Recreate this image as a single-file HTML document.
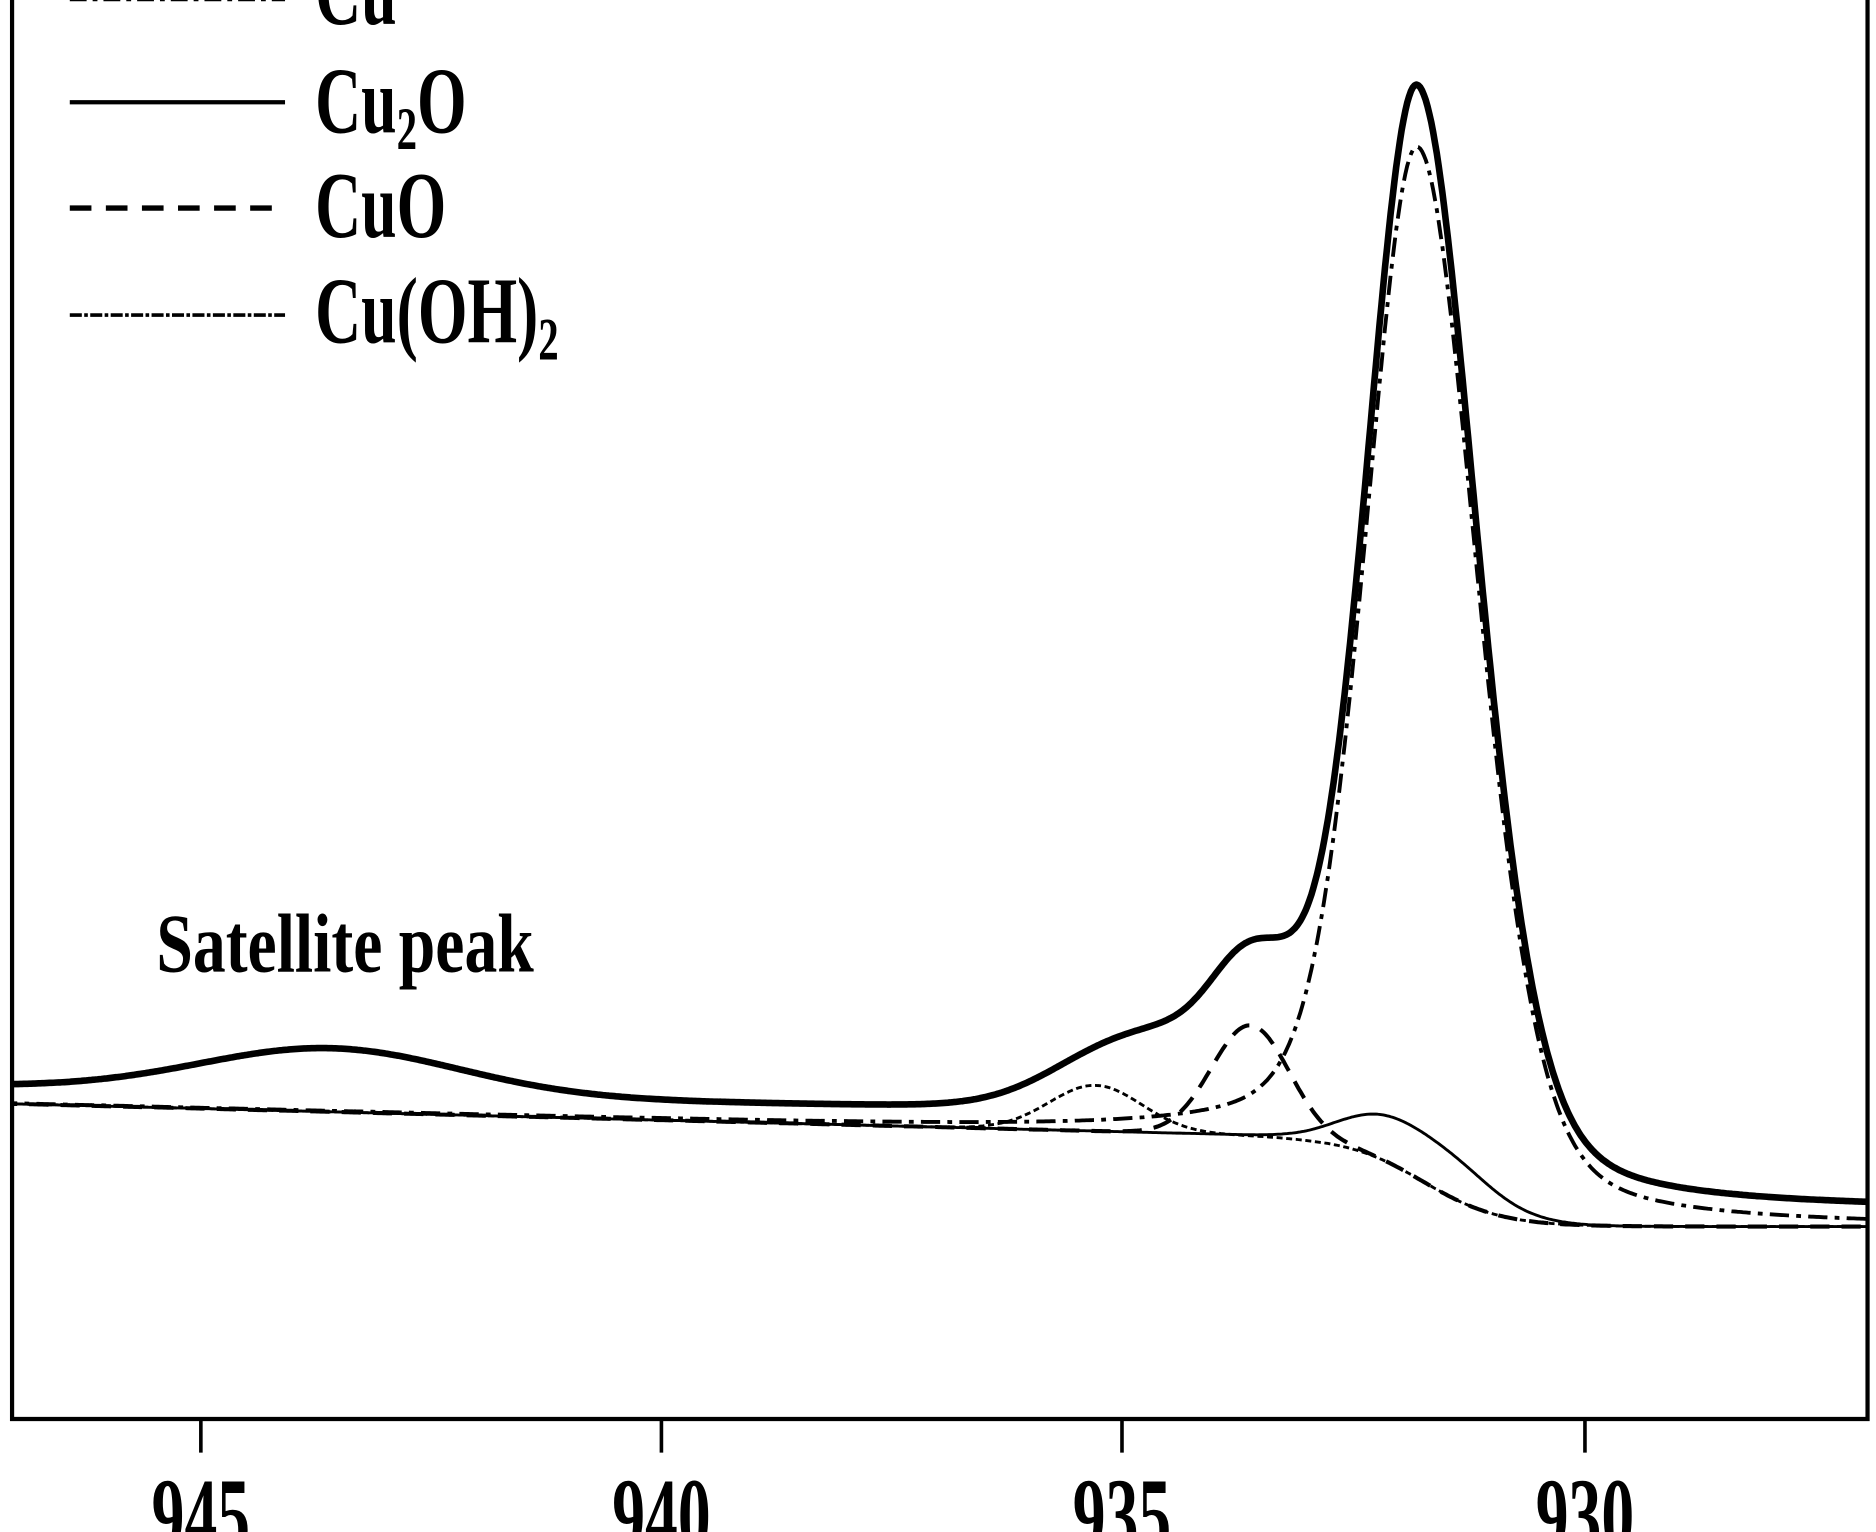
<!DOCTYPE html>
<html><head><meta charset="utf-8"><style>
html,body{margin:0;padding:0;background:#fff;}
svg{display:block;}
text{font-family:"Liberation Serif",serif;font-weight:bold;fill:#000;}
</style></head><body>
<svg id="s" width="1876" height="1532" viewBox="0 0 1560 1274" xmlns="http://www.w3.org/2000/svg">
<rect x="0" y="0" width="1560" height="1274" fill="#fff"/>
<g id="curves" fill="none" stroke="#000" stroke-linejoin="round"></g>
<path d="M10,-10 L10,1180 L1553,1180 L1553,-10" fill="none" stroke="#000" stroke-width="3.5"/>
<g stroke="#000" stroke-width="3">
<line x1="167" y1="1180" x2="167" y2="1208"/>
<line x1="550" y1="1180" x2="550" y2="1208"/>
<line x1="933" y1="1180" x2="933" y2="1208"/>
<line x1="1318" y1="1180" x2="1318" y2="1208"/>
</g>
<g font-size="88">
<text transform="translate(167,1290) scale(0.62,1)" text-anchor="middle">945</text>
<text transform="translate(550,1290) scale(0.62,1)" text-anchor="middle">940</text>
<text transform="translate(933,1290) scale(0.62,1)" text-anchor="middle">935</text>
<text transform="translate(1318,1290) scale(0.62,1)" text-anchor="middle">930</text>
</g>
<g stroke="#000" fill="none">
<line x1="58" y1="-2" x2="237" y2="-2" stroke-width="6" stroke-dasharray="14 5 4 5"/>
<line x1="58" y1="85" x2="237" y2="85" stroke-width="3.5"/>
<line x1="58" y1="173" x2="237" y2="173" stroke-width="4.5" stroke-dasharray="18 12"/>
<line x1="58" y1="262" x2="237" y2="262" stroke-width="3" stroke-dasharray="10 2 3 2"/>
</g>
<g font-size="78">
<text transform="translate(262,20) scale(0.68,1)">Cu</text>
<text transform="translate(262,110) scale(0.68,1)">Cu<tspan font-size="50" dy="14">2</tspan><tspan dy="-14">O</tspan></text>
<text transform="translate(262,197) scale(0.68,1)">CuO</text>
<text transform="translate(262,285) scale(0.68,1)">Cu(OH)<tspan font-size="50" dy="14">2</tspan></text>
</g>
<text font-size="70" transform="translate(130,808) scale(0.78,1)">Satellite peak</text>
</svg>
<script>
(function(){
var X=function(E){return 167+(945-E)*76.7;};
function sig(z){return 1/(1+Math.exp(-z));}
function lin(E){return 918+(947-E)*(945-918)/(947-933);}
function linc(E){var v=lin(E);return v>945?945:v;}
function B(E){var l=linc(E);return l+(1020-l)*sig((931.75-E)/0.42);}
function B2(E){var l=linc(E);return l+(1020-l)*sig((931.1-E)/0.3);}
function G(E,c,s){return Math.exp(-0.5*Math.pow((E-c)/s,2));}
function PV(E,c,f,m){var d=(E-c)/f;return (1-m)*Math.exp(-4*Math.LN2*d*d)+m/(1+4*d*d);}
function cu(E){var f=E<931.8?1.55:1.35;return 858*PV(E,931.8,f,0.3);}
function cuo(E){return 92*G(E,933.62,0.42);}
function coh(E){return 38*G(E,935.3,0.5);}
function cu2o(E){return 20*G(E,932.25,0.45);}
function sat(E){return 38*G(E,943.6,1.4);}
var g=document.getElementById('curves');
function path(fn,w,dash){
  var d='';
  for(var E=947.2;E>=926.8;E-=0.02){var x=X(E),y=fn(E);d+=(d?'L':'M')+x.toFixed(1)+','+y.toFixed(1);}
  var p=document.createElementNS('http://www.w3.org/2000/svg','path');
  p.setAttribute('d',d);p.setAttribute('stroke-width',w);
  if(dash)p.setAttribute('stroke-dasharray',dash);
  g.appendChild(p);
}
var clip=document.createElementNS('http://www.w3.org/2000/svg','clipPath');
clip.setAttribute('id','c');
var r=document.createElementNS('http://www.w3.org/2000/svg','rect');
r.setAttribute('x',10);r.setAttribute('y',0);r.setAttribute('width',1543);r.setAttribute('height',1180);
clip.appendChild(r);document.getElementById('s').appendChild(clip);
g.setAttribute('clip-path','url(#c)');
path(function(E){return B2(E)-cu2o(E);},2.4,null);
path(function(E){return B(E)-coh(E);},2.4,'5 3');
path(function(E){return B(E)-cuo(E);},3.4,'16 10');
path(function(E){return B(E)-cu(E);},3.2,'16 6 4 6');
path(function(E){return B(E)-14-1.035*cu(E)-cuo(E)-48*G(E,935.0,0.75)-18*G(E,934.3,0.5)-14*G(E,933.15,0.3)-sat(E)-0.6*cu2o(E);},5.5,null);
})();
</script>
</body></html>
